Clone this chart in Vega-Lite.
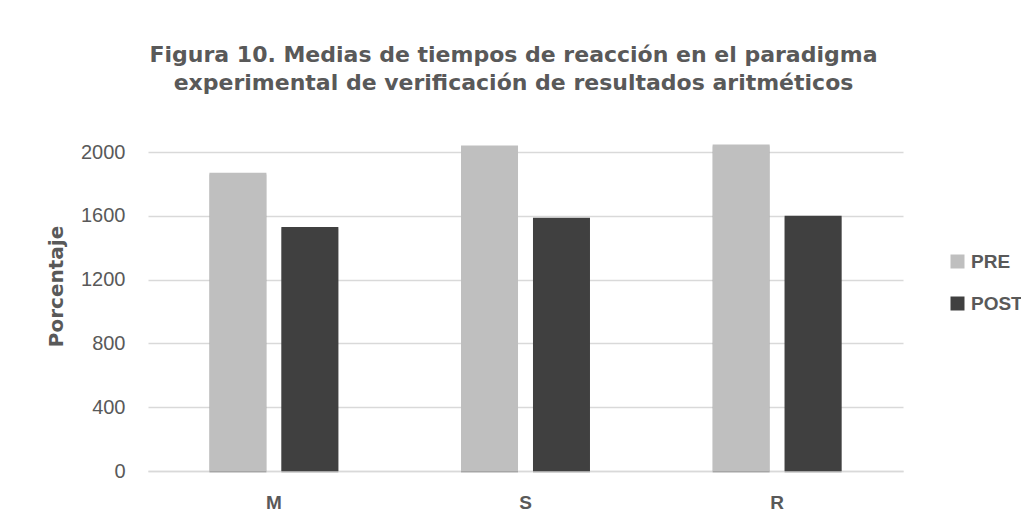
{
  "$schema": "https://vega.github.io/schema/vega-lite/v6.json",
  "autosize": "none",
  "width": 755,
  "height": 319,
  "padding": {"left": 148, "top": 152, "right": 118, "bottom": 58},
  "background": "white",
  "title": {
    "text": ["Figura 10. Medias de tiempos de reacción en el paradigma", "experimental de verificación de resultados aritméticos"],
    "font": "DejaVu Sans",
    "fontWeight": "bold",
    "fontSize": 22,
    "lineHeight": 28,
    "color": "#595959",
    "anchor": "middle",
    "offset": 47,
    "dx": -12
  },
  "data": {
    "values": [
      {"grupo": "M", "fase": "PRE", "valor": 1870},
      {"grupo": "M", "fase": "POST", "valor": 1529},
      {"grupo": "S", "fase": "PRE", "valor": 2041},
      {"grupo": "S", "fase": "POST", "valor": 1588},
      {"grupo": "R", "fase": "PRE", "valor": 2047},
      {"grupo": "R", "fase": "POST", "valor": 1601}
    ]
  },
  "encoding": {
    "x": {
      "field": "grupo",
      "type": "nominal",
      "sort": ["M", "S", "R"],
      "scale": {"paddingInner": 0.4875, "paddingOuter": 0.244},
      "axis": {
        "title": null,
        "labelAngle": 0,
        "labelFont": "Liberation Sans",
        "labelFontWeight": "bold",
        "labelFontSize": 19,
        "labelColor": "#595959",
        "labelPadding": 22,
        "ticks": false,
        "domainColor": "#D9D9D9",
        "domainWidth": 1.5
      }
    },
    "xOffset": {
      "field": "fase",
      "type": "nominal",
      "sort": ["PRE", "POST"],
      "scale": {"paddingInner": 0.208, "paddingOuter": 0}
    },
    "y": {
      "field": "valor",
      "type": "quantitative",
      "scale": {"domain": [0, 2000], "nice": false},
      "axis": {
        "title": "Porcentaje",
        "titleFont": "DejaVu Sans",
        "titleFontWeight": "bold",
        "titleFontSize": 20,
        "titleColor": "#595959",
        "titleAngle": -90,
        "titleAlign": "center",
        "titleBaseline": "middle",
        "titleX": -92,
        "titleY": 134,
        "values": [0, 400, 800, 1200, 1600, 2000],
        "format": "d",
        "labelFont": "Liberation Sans",
        "labelFontSize": 20,
        "labelColor": "#595959",
        "labelPadding": 23,
        "ticks": false,
        "domain": false,
        "gridColor": "#D9D9D9",
        "gridWidth": 1.3
      }
    }
  },
  "layer": [
    {
      "mark": {"type": "bar", "color": "#000000", "opacity": 0.12, "xOffset": 5, "yOffset": 2},
      "encoding": {}
    },
    {
      "mark": {"type": "bar", "color": "#000000", "opacity": 0.12, "xOffset": 2, "yOffset": 1},
      "encoding": {}
    },
    {
      "mark": {"type": "bar"},
      "encoding": {
        "color": {
          "field": "fase",
          "type": "nominal",
          "sort": ["PRE", "POST"],
          "scale": {"domain": ["PRE", "POST"], "range": ["#BFBFBF", "#404040"]},
          "legend": {
            "title": null,
            "orient": "none",
            "legendX": 800,
            "legendY": 100,
            "symbolType": "square",
            "symbolSize": 196,
            "symbolStrokeWidth": 0,
            "labelFont": "Liberation Sans",
            "labelFontWeight": "bold",
            "labelFontSize": 19,
            "labelColor": "#595959",
            "labelOffset": 4,
            "rowPadding": 22
          }
        }
      }
    }
  ],
  "config": {"view": {"stroke": null}}
}
